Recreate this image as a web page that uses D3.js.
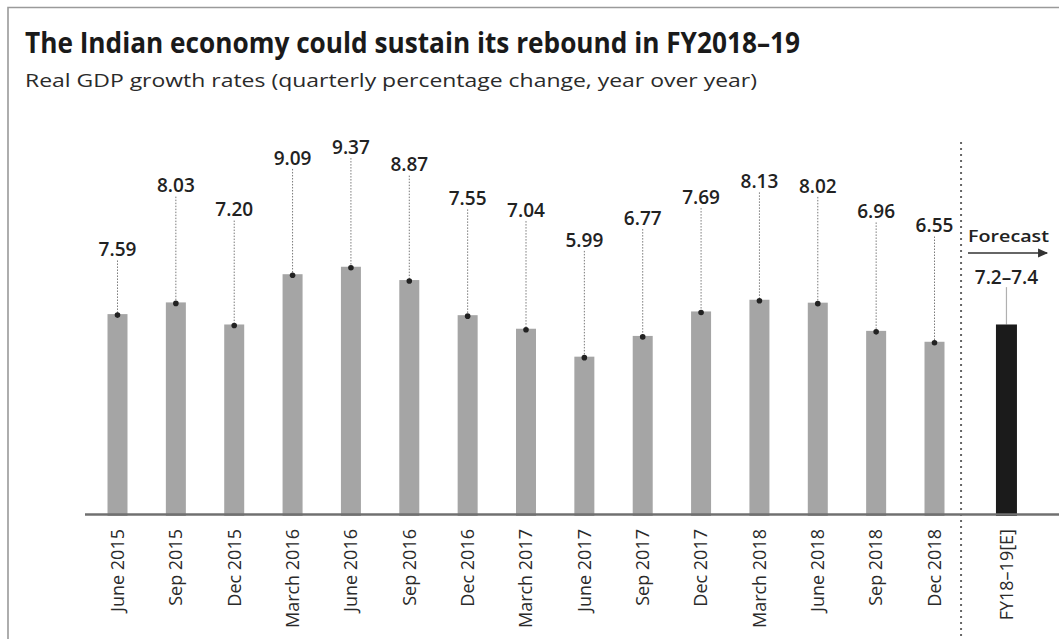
<!DOCTYPE html>
<html>
<head>
<meta charset="utf-8">
<script src="https://cdn.jsdelivr.net/npm/d3@7"></script>
<style>
  html, body { margin: 0; padding: 0; background: #fff; }
  svg { display: block; }
  text { font-family: "Open Sans", "Noto Sans", sans-serif; }
</style>
</head>
<body>
<script>
// ---- data ----
const quarters = ["June 2015", "Sep 2015", "Dec 2015", "March 2016", "June 2016", "Sep 2016",
  "Dec 2016", "March 2017", "June 2017", "Sep 2017", "Dec 2017", "March 2018", "June 2018",
  "Sep 2018", "Dec 2018"];
const growth = [7.59, 8.03, 7.20, 9.09, 9.37, 8.87, 7.55, 7.04, 5.99, 6.77, 7.69, 8.13, 8.02, 6.96, 6.55];
const valueLabels = ["7.59", "8.03", "7.20", "9.09", "9.37", "8.87", "7.55", "7.04", "5.99", "6.77",
  "7.69", "8.13", "8.02", "6.96", "6.55"];
// height (in growth units) at which each value label sits
const labelLevel = [10.02, 12.42, 11.52, 13.46, 13.87, 13.21, 11.94, 11.50, 10.38, 11.20, 11.99, 12.58, 12.41, 11.45, 10.92];
const forecastCategory = "FY18–19[E]";
const forecastValue = 7.2;
const forecastLabel = "7.2–7.4";
const forecastLabelLevel = 8.98;
const titleText = "The Indian economy could sustain its rebound in FY2018–19";
const subtitleText = "Real GDP growth rates (quarterly percentage change, year over year)";
const forecastText = "Forecast";

// ---- layout ----
const W = 1059, H = 639;
const svg = d3.select("body").append("svg").attr("width", W).attr("height", H);

const defs = svg.append("defs");
defs.append("marker").attr("id", "arrow").attr("viewBox", "0 0 10 10")
  .attr("refX", 8).attr("refY", 5).attr("markerWidth", 7).attr("markerHeight", 7)
  .attr("orient", "auto")
  .append("path").attr("d", "M0,1 L9,5 L0,9 Z").attr("fill", "#333");

// frame
svg.append("path").attr("d", "M8,645 L8,7.5 L1065,7.5")
  .attr("fill", "none").attr("stroke", "#9a9a9a").attr("stroke-width", 1.6);

// titles
svg.append("text").attr("x", 25).attr("y", 53)
  .attr("font-size", 28.5).attr("font-weight", 700).attr("fill", "#1a1a1a")
  .attr("textLength", 775).attr("lengthAdjust", "spacingAndGlyphs")
  .text(titleText);
svg.append("text").attr("x", 25).attr("y", 87)
  .attr("font-size", 18.5).attr("font-weight", 400).attr("fill", "#2a2a2a")
  .attr("textLength", 732).attr("lengthAdjust", "spacingAndGlyphs")
  .text(subtitleText);

// scales
const x = d3.scalePoint().domain(quarters).range([117.5, 934.5]);
const step = x.step();
const xForecast = x(quarters[quarters.length - 1]) + step * 1.233;
const xSep = x(quarters[quarters.length - 1]) + step * 0.455;
const y = d3.scaleLinear().domain([0, 10]).range([516, 250]);
const barW = 20;

const data = quarters.map((q, i) => ({ q, v: growth[i], lab: valueLabels[i], lvl: labelLevel[i] }));

// bars
svg.append("g").selectAll("rect").data(data).join("rect")
  .attr("x", d => x(d.q) - barW / 2).attr("width", barW)
  .attr("y", d => y(d.v)).attr("height", d => y(0) - y(d.v))
  .attr("fill", "#a5a5a5");

// leader lines
svg.append("g").selectAll("line").data(data).join("line")
  .attr("x1", d => x(d.q)).attr("x2", d => x(d.q))
  .attr("y1", d => y(d.lvl) + 11).attr("y2", d => y(d.v))
  .attr("stroke", "#7a7a7a").attr("stroke-width", 1).attr("stroke-dasharray", "1.5,1.5");

// dots at bar tops
svg.append("g").selectAll("circle").data(data).join("circle")
  .attr("cx", d => x(d.q)).attr("cy", d => y(d.v) + 1).attr("r", 2.8)
  .attr("fill", "#222");

// value labels
svg.append("g").selectAll("text").data(data).join("text")
  .attr("x", d => x(d.q)).attr("y", d => y(d.lvl)).attr("dy", "0.35em")
  .attr("text-anchor", "middle").attr("font-size", 19).attr("font-weight", 600)
  .attr("fill", "#222").text(d => d.lab);

// forecast bar
svg.append("line").attr("x1", xForecast).attr("x2", xForecast)
  .attr("y1", y(forecastLabelLevel) + 10).attr("y2", y(forecastValue))
  .attr("stroke", "#b0b0b0").attr("stroke-width", 1.2);
svg.append("rect").attr("x", xForecast - 10.5).attr("width", 21)
  .attr("y", y(forecastValue)).attr("height", y(0) - y(forecastValue))
  .attr("fill", "#1b1b1b");
svg.append("text").attr("x", xForecast).attr("y", y(forecastLabelLevel)).attr("dy", "0.35em")
  .attr("text-anchor", "middle").attr("font-size", 19).attr("font-weight", 600)
  .attr("fill", "#222").text(forecastLabel);

// forecast header and arrow
svg.append("text").attr("x", 968).attr("y", 242)
  .attr("font-size", 17).attr("font-weight", 600).attr("fill", "#222")
  .attr("textLength", 81).attr("lengthAdjust", "spacingAndGlyphs")
  .text(forecastText);
svg.append("line").attr("x1", 968).attr("x2", 1047).attr("y1", 253).attr("y2", 253)
  .attr("stroke", "#333").attr("stroke-width", 1.6).attr("marker-end", "url(#arrow)");

// separator
svg.append("line").attr("x1", xSep).attr("x2", xSep).attr("y1", 142).attr("y2", 639)
  .attr("stroke", "#666").attr("stroke-width", 2).attr("stroke-dasharray", "2,4");

// axis line
svg.append("line").attr("x1", 85).attr("x2", W).attr("y1", y(0) - 1.5).attr("y2", y(0) - 1.5)
  .attr("stroke", "#707070").attr("stroke-width", 2.5);

// x labels
const allCats = quarters.map(q => ({ q, cx: x(q) })).concat([{ q: forecastCategory, cx: xForecast }]);
svg.append("g").selectAll("text").data(allCats).join("text")
  .attr("transform", d => `translate(${d.cx},529) rotate(-90)`)
  .attr("dy", "0.35em").attr("text-anchor", "end")
  .attr("font-size", 18).attr("fill", "#2a2a2a")
  .text(d => d.q);
</script>
</body>
</html>
